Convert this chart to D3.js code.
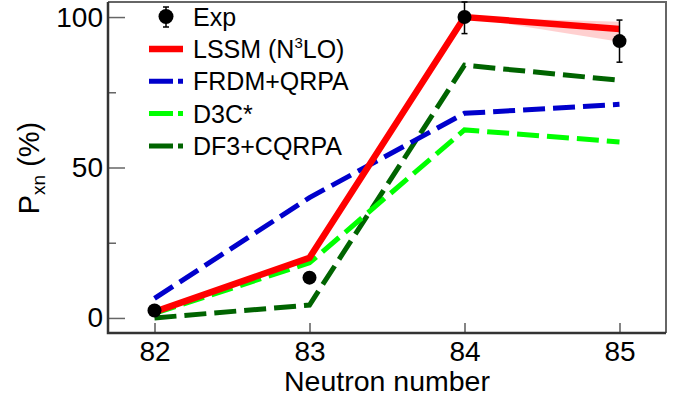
<!DOCTYPE html>
<html>
<head>
<meta charset="utf-8">
<script src="https://cdn.jsdelivr.net/npm/d3@7"></script>
<style>
  body { margin: 0; background: #fff; }
  svg { display: block; font-family: "Liberation Sans", Arial, sans-serif; }
</style>
</head>
<body>
<div id="chart"></div>
<script>
// neutron numbers on the x axis
var neutrons = [82, 83, 84, 85];

// measured values and errors
var expValues = [2.5, 13.4, 100, 92];
var expErrors = [0, 0, 5.5, 7];

// model curves
var lssm = [2, 20, 100, 96];
var lssmLow = [2, 20, 100, 91.8];
var lssmHigh = [2, 20, 100, 98.4];
var frdm = [6.5, 40, 68, 71];
var d3c = [1.5, 18.3, 62.5, 58.5];
var df3 = [0, 4.3, 84, 79];

var yMajorTicks = [0, 50, 100];
var yMinorTicks = [25, 75];

var W = 683, H = 403;
var margin = { top: 2, right: 17, bottom: 70, left: 108 };
var width = W - margin.left - margin.right;
var height = H - margin.top - margin.bottom;

var svg = d3.select("#chart").append("svg")
  .attr("width", W)
  .attr("height", H);

var x = d3.scaleLinear().domain([81.7, 85.3]).range([margin.left, margin.left + width]);
var y = d3.scaleLinear().domain([-5, 105]).range([margin.top + height, margin.top]);

// y axis, major ticks pointing inward
var yAxis = d3.axisLeft(y).tickValues(yMajorTicks).tickSize(-17).tickSizeOuter(0).tickPadding(5);
var gy = svg.append("g")
  .attr("transform", "translate(" + margin.left + ",0)")
  .call(yAxis);
gy.select(".domain").remove();
gy.selectAll("line").attr("stroke", "#666").attr("stroke-width", 1.5);
gy.selectAll("text").attr("font-size", 28).attr("fill", "#000")
  .attr("font-family", "Liberation Sans, Arial, sans-serif");

// minor ticks
var yMinor = d3.axisLeft(y).tickValues(yMinorTicks).tickSize(-8).tickFormat("");
var gym = svg.append("g")
  .attr("transform", "translate(" + margin.left + ",0)")
  .call(yMinor);
gym.select(".domain").remove();
gym.selectAll("line").attr("stroke", "#666").attr("stroke-width", 1.5);

// x axis
var xAxis = d3.axisBottom(x).tickValues(neutrons).tickSize(-10).tickPadding(8).tickFormat(d3.format("d"));
var gx = svg.append("g")
  .attr("transform", "translate(0," + (margin.top + height) + ")")
  .call(xAxis);
gx.select(".domain").remove();
gx.selectAll("line").attr("stroke", "#333").attr("stroke-width", 1.2);
gx.selectAll("text").attr("font-size", 28).attr("fill", "#000")
  .attr("font-family", "Liberation Sans, Arial, sans-serif");

// frame
var x0 = margin.left, x1 = margin.left + width, y0 = margin.top, y1 = margin.top + height;
svg.append("path")
  .attr("d", "M" + x0 + "," + y0 + "H" + x1 + "V" + y1)
  .attr("fill", "none").attr("stroke", "#666").attr("stroke-width", 2);
svg.append("path")
  .attr("d", "M" + x0 + "," + y0 + "V" + y1 + "H" + x1)
  .attr("fill", "none").attr("stroke", "#333").attr("stroke-width", 2.5);

// axis titles
svg.append("text")
  .attr("x", (x0 + x1) / 2)
  .attr("y", 391)
  .attr("text-anchor", "middle")
  .attr("font-size", 28.5)
  .attr("fill", "#000")
  .text("Neutron number");

var ylab = svg.append("text")
  .attr("transform", "translate(39," + 168 + ") rotate(-90)")
  .attr("text-anchor", "middle")
  .attr("font-size", 29)
  .attr("fill", "#000");
ylab.append("tspan").text("P");
ylab.append("tspan").attr("font-size", 19).attr("dy", 6).text("xn");
ylab.append("tspan").attr("dy", -6).text(" (%)");

var plot = svg.append("g");

// uncertainty band for LSSM
var area = d3.area()
  .x(function(d, i) { return x(neutrons[i]); })
  .y0(function(d, i) { return y(lssmLow[i]); })
  .y1(function(d, i) { return y(lssmHigh[i]); });
plot.append("path")
  .datum(lssm)
  .attr("d", area)
  .attr("fill", "#ffc8c8")
  .attr("opacity", 0.85);

var line = d3.line()
  .x(function(d, i) { return x(neutrons[i]); })
  .y(function(d) { return y(d); });

var series = [
  { name: "DF3+CQRPA", values: df3, color: "#006400", width: 5, dash: "22,8" },
  { name: "D3C*", values: d3c, color: "#00ff00", width: 5, dash: "22,8" },
  { name: "FRDM+QRPA", values: frdm, color: "#0000cc", width: 5, dash: "22,8" },
  { name: "LSSM", values: lssm, color: "#ff0000", width: 6.5, dash: null }
];

series.forEach(function(s) {
  plot.append("path")
    .datum(s.values)
    .attr("d", line)
    .attr("fill", "none")
    .attr("stroke", s.color)
    .attr("stroke-width", s.width)
    .attr("stroke-dasharray", s.dash);
});

// experimental points
var pts = plot.selectAll("g.exp")
  .data(expValues)
  .enter().append("g")
  .attr("class", "exp");
pts.each(function(d, k) {
  if (!(expErrors[k] > 0)) return;
  var g = d3.select(this);
  var cx = x(neutrons[k]);
  var top = y(Math.min(d + expErrors[k], 105)), bot = y(d - expErrors[k]);
  g.append("line").attr("x1", cx).attr("x2", cx).attr("y1", top).attr("y2", bot)
    .attr("stroke", "#000").attr("stroke-width", 1.5);
  [top, bot].forEach(function(yy) {
    g.append("line").attr("x1", cx - 3).attr("x2", cx + 3).attr("y1", yy).attr("y2", yy)
      .attr("stroke", "#000").attr("stroke-width", 1.5);
  });
});
pts.append("circle")
  .attr("cx", function(d, i) { return x(neutrons[i]); })
  .attr("cy", function(d) { return y(d); })
  .attr("r", 7)
  .attr("fill", "#000");

// legend
var lg = svg.append("g");
var legX1 = 149, legX2 = 183, legText = 193;
// Exp entry
lg.append("line").attr("x1", 166).attr("x2", 166).attr("y1", 7).attr("y2", 27)
  .attr("stroke", "#000").attr("stroke-width", 1.5);
[7, 27].forEach(function(yy) {
  lg.append("line").attr("x1", 163).attr("x2", 169).attr("y1", yy).attr("y2", yy)
    .attr("stroke", "#000").attr("stroke-width", 1.5);
});
lg.append("circle").attr("cx", 166).attr("cy", 16.5).attr("r", 7.5).attr("fill", "#000");
lg.append("text").attr("x", legText).attr("y", 25.5).attr("font-size", 25).attr("fill", "#000").text("Exp");

var legendRows = series.slice().reverse();
legendRows.forEach(function(s, i) {
  var cy = 49 + i * 32.3;
  lg.append("line")
    .attr("x1", legX1).attr("x2", legX2).attr("y1", cy).attr("y2", cy)
    .attr("stroke", s.color)
    .attr("stroke-width", s.dash ? 5 : 6.5)
    .attr("stroke-dasharray", s.dash ? "24,5" : null);
  var t = lg.append("text").attr("x", legText).attr("y", cy + 9)
    .attr("font-size", 25).attr("fill", "#000");
  if (s.name === "LSSM") {
    t.append("tspan").text("LSSM (N");
    t.append("tspan").attr("font-size", 15).attr("dy", -10).text("3");
    t.append("tspan").attr("dy", 10).text("LO)");
  } else {
    t.text(s.name);
  }
});
</script>
</body>
</html>
